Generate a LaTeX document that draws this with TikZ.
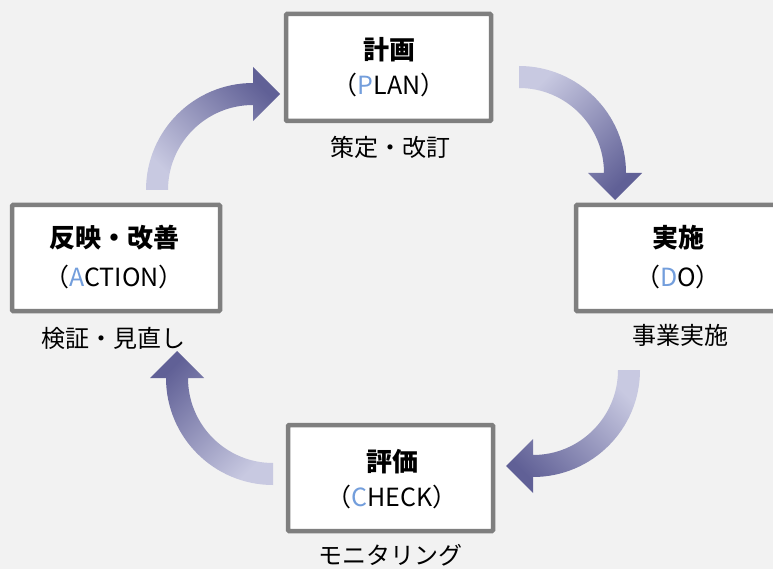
\documentclass[tikz,border=0pt]{standalone}
\usepackage{fontspec}
\setmainfont{Noto Sans CJK JP}
\definecolor{bg}{RGB}{242,242,242}
\definecolor{boxline}{RGB}{127,127,127}
\definecolor{arlight}{RGB}{200,201,225}
\definecolor{ardark}{RGB}{96,96,150}
\definecolor{initial}{RGB}{115,158,220}
\tikzset{
  box/.style={draw=boxline, line width=4.5pt, fill=white, rounded corners=1pt, inner sep=0pt},
  title/.style={font=\fontsize{26}{30}\selectfont\bfseries, inner sep=0pt},
  sub/.style={font=\fontsize{25}{28}\selectfont, inner sep=0pt},
  lbl/.style={font=\fontsize{24}{28}\selectfont, inner sep=0pt},
  cyc/.style={top color=arlight, bottom color=ardark}
}
\newcommand{\ini}[1]{\textcolor{initial}{#1}}
\begin{document}
\begin{tikzpicture}[x=1pt,y=1pt]
\useasboundingbox (0,0) rectangle (773,-569);
\clip (0,0) rectangle (773,-569);
\fill[bg] (0,0) rectangle (773,-569);

% arrows
\shade[cyc, shading angle=45] (519,-66) arc[start angle=90,end angle=0,radius=107]
  -- (642,-173) -- (615,-200) -- (588,-173) -- (604,-173)
  arc[start angle=0,end angle=90,radius=85] -- cycle;
\shade[cyc, shading angle=-45] (640,-370) arc[start angle=0,end angle=-90,radius=107]
  -- (533,-493) -- (506,-466) -- (533,-439) -- (533,-455)
  arc[start angle=-90,end angle=0,radius=85] -- cycle;
\shade[cyc, shading angle=-135] (273,-485) arc[start angle=-90,end angle=-180,radius=107]
  -- (150,-378) -- (177,-351) -- (204,-378) -- (188,-378)
  arc[start angle=-180,end angle=-90,radius=85] -- cycle;
\shade[cyc, shading angle=135] (146,-190) arc[start angle=180,end angle=90,radius=107]
  -- (253,-67) -- (280,-94) -- (253,-121) -- (253,-105)
  arc[start angle=90,end angle=180,radius=85] -- cycle;

% boxes
\node[box, minimum width=205pt, minimum height=107pt] (plan) at (388.5,-67.5) {};
\node[box, minimum width=214pt, minimum height=106pt] (do) at (683,-258) {};
\node[box, minimum width=208pt, minimum height=106pt] (act) at (116,-258) {};
\node[box, minimum width=205pt, minimum height=106pt] (chk) at (390.5,-478) {};

% texts
\node[title] (plant) at (389,-50) {計画};
\node[sub] (plans) at (389,-85) {（\ini{P}LAN）};
\node[lbl] (planl) at (390,-147) {策定・改訂};

\node[title] (dot) at (678,-238) {実施};
\node[sub] (dos) at (678,-277) {（\ini{D}O）};
\node[lbl] (dol) at (680,-335) {事業実施};

\node[title] (actt) at (114,-238) {反映・改善};
\node[sub] (acts) at (114,-277) {（\ini{A}CTION）};
\node[lbl] (actl) at (113,-338) {検証・見直し};

\node[title] (chkt) at (392,-462) {評価};
\node[sub] (chks) at (392,-497) {（\ini{C}HECK）};
\node[lbl] (chkl) at (390,-555) {モニタリング};
\end{tikzpicture}
\end{document}
